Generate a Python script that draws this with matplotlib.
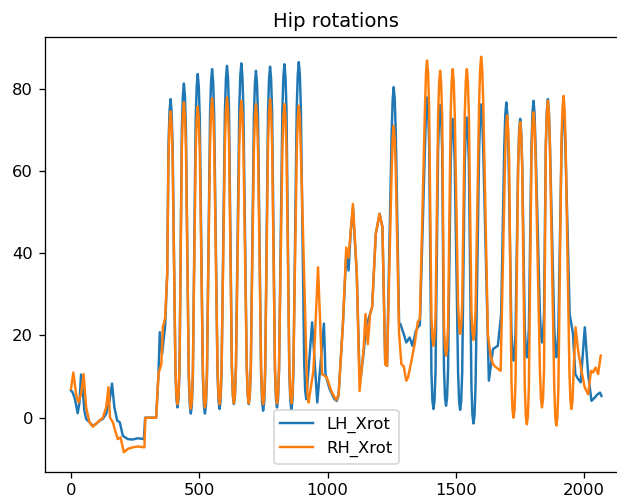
import numpy as np
import matplotlib
matplotlib.use('Agg')
import matplotlib.pyplot as plt

# Left hip X rotation (frame, degrees)
lh_frame = [0, 6, 15, 26, 33, 39, 46, 52, 59, 72, 85, 98, 111, 124, 137, 150, 160, 169, 180, 190,
            202, 221, 241, 260, 284, 289, 332, 341, 346, 355, 367, 375,
            380, 384, 388, 392, 396, 407, 411, 415, 419, 423,
            432, 436, 440, 444, 448, 459, 463, 467, 471, 475,
            486, 490, 494, 498, 502, 514, 518, 522, 526, 530,
            542, 546, 550, 554, 558, 571, 575, 579, 583, 587,
            600, 604, 608, 612, 616, 627, 631, 635, 639, 643,
            656, 660, 664, 668, 672, 685, 689, 693, 697, 701,
            713, 717, 721, 725, 729, 741, 745, 749, 753, 757,
            768, 772, 776, 780, 784, 795, 799, 803, 807, 811,
            824, 828, 832, 836, 840, 851, 855, 859, 863, 867,
            880, 884, 888, 892, 896, 909, 913, 917,
            940, 960, 986, 992, 1008, 1027, 1036, 1043, 1060, 1073, 1082, 1090, 1099, 1114, 1125,
            1130, 1141, 1150, 1160, 1174, 1188, 1203, 1214, 1225, 1232,
            1250, 1254, 1258, 1262, 1266,
            1279, 1284, 1297, 1307, 1320, 1331, 1344, 1352, 1360,
            1380, 1384, 1388, 1392, 1396, 1405, 1409, 1413, 1417, 1421,
            1431, 1435, 1439, 1443, 1447, 1454, 1458, 1462, 1466, 1470,
            1480, 1484, 1488, 1492, 1496, 1509, 1513, 1517, 1521, 1525,
            1535, 1539, 1543, 1547, 1551, 1561, 1565, 1569, 1573, 1577,
            1591, 1595, 1599, 1603, 1607,
            1629, 1645, 1664, 1677,
            1689, 1693, 1697, 1701, 1705, 1717, 1721, 1725, 1729, 1733,
            1743, 1747, 1751, 1755, 1759, 1769, 1773, 1777, 1781, 1785,
            1795, 1799, 1803, 1807, 1811, 1828, 1832, 1836, 1840, 1844,
            1851, 1855, 1859, 1863, 1867, 1884, 1888, 1892, 1896, 1900,
            1912, 1916, 1920, 1924, 1928,
            1944, 1957, 1966, 1977, 1987, 2003, 2016, 2029, 2042, 2053, 2062, 2068]
lh_xrot = [6.6, 6.2, 4.6, 1.1, 3.7, 10.5, 6.6, 1.7, -0.3, -1.1, -2.0, -1.5, -0.7, -0.3, 0.9, 4.1, 8.3, 2.5, -0.7, -1.1,
           -4.4, -5.2, -5.3, -5.0, -5.2, 0.0, 0.0, 10.7, 20.8, 15.5, 22.4, 35.0,
           66.5, 74.5, 77.5, 74.5, 66.5, 11.5, 4.5, 2.5, 4.5, 11.5,
           70.3, 78.3, 81.3, 78.3, 70.3, 10.0, 3.0, 1.0, 3.0, 10.0,
           72.6, 80.6, 83.6, 80.6, 72.6, 10.0, 3.0, 1.0, 3.0, 10.0,
           73.8, 81.8, 84.8, 81.8, 73.8, 11.1, 4.1, 2.1, 4.1, 11.1,
           74.6, 82.6, 85.6, 82.6, 74.6, 12.3, 5.3, 3.3, 5.3, 12.3,
           75.2, 83.2, 86.2, 83.2, 75.2, 12.3, 5.3, 3.3, 5.3, 12.3,
           73.4, 81.4, 84.4, 81.4, 73.4, 10.7, 3.7, 1.7, 3.7, 10.7,
           74.4, 82.4, 85.4, 82.4, 74.4, 11.5, 4.5, 2.5, 4.5, 11.5,
           75.0, 83.0, 86.0, 83.0, 75.0, 11.0, 4.0, 2.0, 4.0, 11.0,
           75.5, 83.5, 86.5, 83.5, 75.5, 13.5, 6.5, 4.5,
           23.2, 3.7, 22.9, 10.6, 7.0, 4.5, 4.1, 5.5, 22.8, 40.0, 35.8, 45.0, 51.0, 35.0, 9.8,
           10.0, 16.0, 22.0, 24.0, 27.0, 44.7, 49.6, 46.4, 13.0, 12.6,
           69.4, 77.4, 80.4, 77.4, 69.4,
           22.8, 22.8, 20.4, 18.3, 19.5, 17.5, 21.0, 22.0, 22.5,
           66.9, 74.9, 77.9, 74.9, 66.9, 11.1, 4.1, 2.1, 4.1, 11.1,
           65.0, 73.0, 76.0, 73.0, 65.0, 11.9, 4.9, 2.9, 4.9, 11.9,
           61.7, 69.7, 72.7, 69.7, 61.7, 10.9, 3.9, 1.9, 3.9, 10.9,
           62.0, 70.0, 73.0, 70.0, 62.0, 7.6, 0.6, -1.4, 0.6, 7.6,
           65.2, 73.2, 76.2, 73.2, 65.2,
           9.0, 16.7, 17.5, 25.2,
           65.7, 73.7, 76.7, 73.7, 65.7, 20.9, 15.9, 13.9, 15.9, 20.9,
           61.7, 69.7, 72.7, 69.7, 61.7, 21.7, 16.7, 14.7, 16.7, 21.7,
           66.1, 74.1, 77.1, 74.1, 66.1, 25.3, 20.3, 18.3, 20.3, 25.3,
           66.5, 74.5, 77.5, 74.5, 66.5, 21.7, 16.7, 14.7, 16.7, 21.7,
           64.5, 72.5, 75.5, 72.5, 64.5,
           25.2, 20.4, 10.6, 9.4, 8.6, 22.0, 10.6, 4.1, 4.9, 5.7, 6.1, 5.3]

# Right hip X rotation
rh_frame = [0, 9, 20, 29, 39, 49, 59, 72, 85, 104, 124, 137, 146, 152, 163, 172, 182, 193,
            206, 221, 241, 260, 286, 290, 332, 341, 352, 358, 367, 375,
            380, 384, 388, 392, 396, 407, 411, 415, 419, 423,
            432, 436, 440, 444, 448, 459, 463, 467, 471, 475,
            486, 490, 494, 498, 502, 514, 518, 522, 526, 530,
            542, 546, 550, 554, 558, 571, 575, 579, 583, 587,
            600, 604, 608, 612, 616, 627, 631, 635, 639, 643,
            656, 660, 664, 668, 672, 685, 689, 693, 697, 701,
            713, 717, 721, 725, 729, 741, 745, 749, 753, 757,
            768, 772, 776, 780, 784, 795, 799, 803, 807, 811,
            824, 828, 832, 836, 840, 851, 855, 859, 863, 867,
            880, 884, 888, 892, 896, 918, 922, 926,
            945, 963, 979, 997, 1014, 1033, 1043, 1060, 1073, 1082, 1099, 1114, 1125,
            1141, 1148, 1157, 1166, 1174, 1188, 1203, 1214, 1225, 1232,
            1250, 1254, 1258, 1262, 1266,
            1279, 1288, 1297, 1307, 1314, 1327, 1340, 1352, 1360,
            1380, 1384, 1388, 1392, 1396, 1405, 1409, 1413, 1417, 1421,
            1431, 1435, 1439, 1443, 1447, 1454, 1458, 1462, 1466, 1470,
            1480, 1484, 1488, 1492, 1496, 1509, 1513, 1517, 1521, 1525,
            1535, 1539, 1543, 1547, 1551, 1561, 1565, 1569, 1573, 1577,
            1591, 1595, 1599, 1603, 1607,
            1625, 1635, 1645, 1658, 1675,
            1692, 1696, 1700, 1704, 1708, 1717, 1721, 1725, 1729, 1733,
            1743, 1747, 1751, 1755, 1759, 1769, 1773, 1777, 1781, 1785,
            1795, 1799, 1803, 1807, 1811, 1828, 1832, 1836, 1840, 1844,
            1851, 1855, 1859, 1863, 1867, 1884, 1888, 1892, 1896, 1900,
            1912, 1916, 1920, 1924, 1928, 1943, 1947, 1951, 1955, 1959,
            1967, 1977, 1990, 2003, 2016, 2027, 2035, 2045, 2055, 2065]
rh_xrot = [7.0, 11.0, 5.7, 3.7, 5.7, 10.6, 2.5, -1.1, -2.2, -1.1, 0.0, 2.5, 7.4, 0.0, -1.1, -3.1, -5.2, -4.8,
           -8.4, -7.6, -7.2, -7.0, -7.2, 0.0, 0.0, 10.7, 13.0, 22.0, 24.3, 35.0,
           63.5, 71.5, 74.5, 71.5, 63.5, 12.3, 5.3, 3.3, 5.3, 12.3,
           65.7, 73.7, 76.7, 73.7, 65.7, 11.2, 4.2, 2.2, 4.2, 11.2,
           64.7, 72.7, 75.7, 72.7, 64.7, 11.5, 4.5, 2.5, 4.5, 11.5,
           66.7, 74.7, 77.7, 74.7, 66.7, 12.3, 5.3, 3.3, 5.3, 12.3,
           66.9, 74.9, 77.9, 74.9, 66.9, 12.5, 5.5, 3.5, 5.5, 12.5,
           66.1, 74.1, 77.1, 74.1, 66.1, 12.5, 5.5, 3.5, 5.5, 12.5,
           65.3, 73.3, 76.3, 73.3, 65.3, 12.3, 5.3, 3.3, 5.3, 12.3,
           66.5, 74.5, 77.5, 74.5, 66.5, 12.5, 5.5, 3.5, 5.5, 12.5,
           65.3, 73.3, 76.3, 73.3, 65.3, 12.5, 5.5, 3.5, 5.5, 12.5,
           64.9, 72.9, 75.9, 72.9, 64.9, 12.7, 5.7, 3.7,
           11.4, 36.6, 10.6, 9.8, 6.6, 4.3, 5.5, 22.8, 41.4, 38.9, 52.0, 35.2, 6.5,
           17.1, 25.2, 17.9, 25.2, 26.8, 44.7, 49.6, 46.4, 13.0, 12.6,
           60.0, 68.0, 71.0, 68.0, 60.0,
           20.4, 13.0, 12.5, 9.0, 9.8, 13.8, 18.0, 23.4, 24.0,
           75.9, 83.9, 86.9, 83.9, 75.9, 24.5, 19.5, 17.5, 19.5, 24.5,
           73.4, 81.4, 84.4, 81.4, 73.4, 22.1, 17.1, 15.1, 17.1, 22.1,
           73.8, 81.8, 84.8, 81.8, 73.8, 27.4, 22.4, 20.4, 22.4, 27.4,
           73.8, 81.8, 84.8, 81.8, 73.8, 25.9, 20.9, 18.9, 20.9, 25.9,
           76.8, 84.8, 87.8, 84.8, 76.8,
           20.4, 15.3, 13.0, 12.2, 11.4,
           62.5, 70.5, 73.5, 70.5, 62.5, 9.0, 2.0, 0.0, 2.0, 9.0,
           60.9, 68.9, 71.9, 68.9, 60.9, 7.4, 0.4, -1.6, 0.4, 7.4,
           63.3, 71.3, 74.3, 71.3, 63.3, 11.5, 4.5, 2.5, 4.5, 11.5,
           66.1, 74.1, 77.1, 74.1, 66.1, 7.1, 0.1, -1.9, 0.1, 7.1,
           67.3, 75.3, 78.3, 75.3, 67.3, 11.1, 4.1, 2.1, 4.1, 11.1,
           22.0, 16.3, 11.4, 7.3, 5.7, 11.4, 11.0, 12.2, 10.6, 15.1]

plt.rcParams['font.family'] = 'DejaVu Sans'

dpi = 117.5
fig = plt.figure(figsize=(617 / dpi, 497 / dpi), dpi=dpi)
# the reference is a cropped screenshot: the right spine falls outside the frame
ax = fig.add_axes([44.5 / 617, 25 / 497, 583.5 / 617, 435 / 497])

ax.plot(lh_frame, lh_xrot, label='LH_Xrot')
ax.plot(rh_frame, rh_xrot, label='RH_Xrot')
ax.set_title('Hip rotations')
ax.legend(loc='lower center')

fig.savefig('out.png', dpi=dpi)
